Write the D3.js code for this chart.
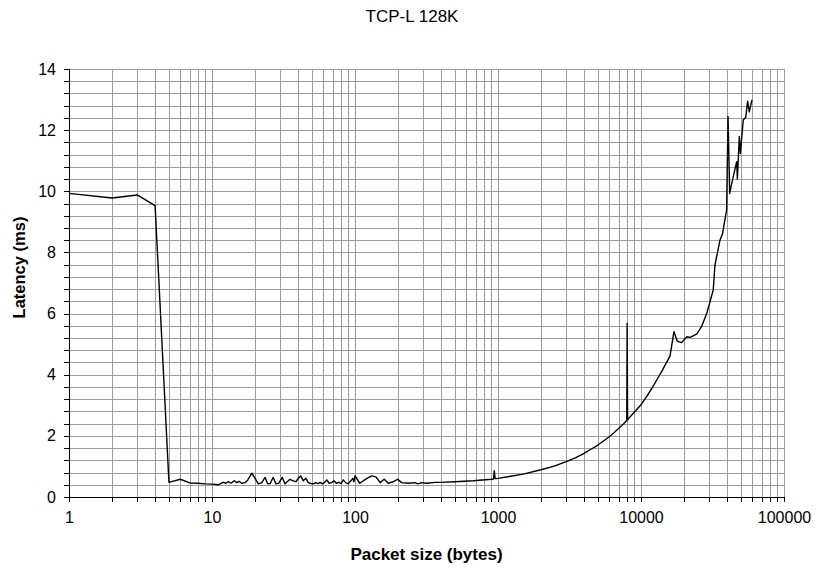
<!DOCTYPE html>
<html>
<head>
<meta charset="utf-8">
<script src="https://cdn.jsdelivr.net/npm/d3@7"></script>
<style>
  body { margin: 0; background: #fff; }
  svg { display: block; font-family: "Liberation Sans", Arial, sans-serif; }
</style>
</head>
<body>
<svg id="chart" width="817" height="569"></svg>
<script>
// packet size (bytes) and latency (ms)
var sizes = [1, 2, 3, 4, 5, 6, 7, 8, 9, 10, 11, 12, 12.5, 13, 13.6, 14.3, 14.9, 15.5, 16.1, 17, 17.8,
  19, 20, 21.1, 22.3, 23.5, 24.5, 25.5, 26.8, 28, 29.3, 31, 32.4, 35.1, 37, 38.7, 40.1, 41.7, 43.5,
  45.4, 47.1, 49, 51.1, 53, 55, 57, 59, 61, 63.4, 66, 68.5, 71.3, 74, 77, 80, 82.8, 86, 89.8, 92,
  94.8, 96.5, 98.4, 100, 108, 121, 131, 140, 150, 160, 171, 185, 199, 212, 236, 263, 275, 293, 317,
  363, 400, 500, 672, 900, 930, 942, 955, 1000, 1200, 1500, 2000, 2500, 3000, 3500, 4000, 4500,
  5000, 5500, 6000, 6500, 7000, 7500, 7950, 8000, 8060, 9000, 10000, 11000, 12000, 13000, 14000,
  15000, 15950, 17000, 17900, 19200, 20900, 22000, 24500, 26500, 28800,
  32000, 32900, 35700, 37200, 39700, 40600, 41700, 44000, 46700, 47200, 48700, 49500, 51900, 54000,
  55700, 57200, 59700];
var latency = [9.93, 9.78, 9.88, 9.53, 0.48, 0.58, 0.46, 0.45, 0.43, 0.42, 0.40, 0.48, 0.45, 0.50, 0.45, 0.53, 0.47, 0.51, 0.45, 0.47, 0.56,
  0.78, 0.61, 0.43, 0.47, 0.64, 0.43, 0.44, 0.64, 0.43, 0.45, 0.64, 0.43, 0.58, 0.53, 0.50, 0.61, 0.69, 0.53,
  0.61, 0.47, 0.44, 0.43, 0.47, 0.44, 0.48, 0.43, 0.47, 0.56, 0.45, 0.47, 0.53, 0.45, 0.48, 0.44, 0.56, 0.47, 0.43, 0.50,
  0.56, 0.61, 0.50, 0.69, 0.45, 0.61, 0.69, 0.66, 0.47, 0.58, 0.45, 0.50, 0.58, 0.47, 0.45, 0.47, 0.43, 0.47, 0.45,
  0.48, 0.48, 0.50, 0.53, 0.58, 0.59, 0.86, 0.60, 0.61, 0.67, 0.75, 0.89, 1.02, 1.16, 1.29, 1.43, 1.57,
  1.70, 1.84, 1.97, 2.11, 2.25, 2.38, 2.50, 5.68, 2.53, 2.78, 3.02, 3.30, 3.58, 3.86, 4.12,
  4.38, 4.61, 5.41, 5.10, 5.05, 5.24, 5.22, 5.33, 5.57, 6.00,
  6.77, 7.59, 8.41, 8.62, 9.39, 12.45, 9.93, 10.45, 10.97, 10.40, 11.79, 11.24, 12.33, 12.42,
  12.95, 12.60, 12.99];

var xLabels = [1, 10, 100, 1000, 10000, 100000];
var yLabels = [0, 2, 4, 6, 8, 10, 12, 14];
var yStep = 0.4;

var title = "TCP-L 128K",
    xTitle = "Packet size (bytes)",
    yTitle = "Latency (ms)";

var svg = d3.select("#chart"),
    plotL = 69, plotR = 784, plotT = 69, plotB = 497;

var x = d3.scaleLog()
  .domain([1, 100000])
  .range([plotL, plotR]);

var y = d3.scaleLinear()
  .domain([0, 14])
  .range([plotB, plotT]);

var yMinor = d3.range(0, 14 / yStep + 0.5).map(function(i){ return +(i * yStep).toFixed(2); });

// grid
var grid = svg.append("g")
  .attr("stroke", "#9c9c9c")
  .attr("stroke-width", 1)
  .attr("shape-rendering", "crispEdges");

grid.selectAll("line.v")
  .data(x.ticks())
  .enter().append("line")
  .attr("x1", function(d){ return Math.round(x(d)) + 0.5; })
  .attr("x2", function(d){ return Math.round(x(d)) + 0.5; })
  .attr("y1", plotT)
  .attr("y2", plotB);

grid.selectAll("line.h")
  .data(yMinor)
  .enter().append("line")
  .attr("x1", plotL)
  .attr("x2", plotR)
  .attr("y1", function(d){ return Math.round(y(d)) + 0.5; })
  .attr("y2", function(d){ return Math.round(y(d)) + 0.5; });

// axes
var xAxis = d3.axisBottom(x)
  .tickValues(x.ticks())
  .tickSize(5)
  .tickFormat(function(d){ return xLabels.indexOf(d) >= 0 ? d : ""; });

var yAxis = d3.axisLeft(y)
  .tickValues(yMinor)
  .tickSize(5)
  .tickFormat(function(d){ return yLabels.indexOf(d) >= 0 ? d : ""; });

svg.append("g")
  .attr("transform", "translate(0," + plotB + ")")
  .call(xAxis)
  .call(function(g){
    g.select(".domain").attr("d", "M" + plotL + ",0.5H" + plotR).attr("stroke", "#000").attr("shape-rendering", "crispEdges");
    g.selectAll(".tick line").attr("stroke", "#000").attr("shape-rendering", "crispEdges");
    g.selectAll(".tick text").attr("font-size", 16).attr("fill", "#000").attr("y", 15).attr("dy", "0.71em")
      .attr("font-family", "'Liberation Sans', Arial, sans-serif");
  });

svg.append("g")
  .attr("transform", "translate(" + plotL + ",0)")
  .call(yAxis)
  .call(function(g){
    g.select(".domain").attr("d", "M0.5," + plotT + "V" + plotB).attr("stroke", "#000").attr("shape-rendering", "crispEdges");
    g.selectAll(".tick line").attr("stroke", "#000").attr("shape-rendering", "crispEdges");
    g.selectAll(".tick text").attr("font-size", 16).attr("fill", "#000").attr("x", -13)
      .attr("font-family", "'Liberation Sans', Arial, sans-serif");
  });

// series
var line = d3.line()
  .x(function(d){ return x(d[0]); })
  .y(function(d){ return y(d[1]); });

svg.append("path")
  .datum(d3.zip(sizes, latency))
  .attr("fill", "none")
  .attr("stroke", "#000")
  .attr("stroke-width", 1.4)
  .attr("stroke-linejoin", "round")
  .attr("d", line);

// titles
svg.append("text")
  .attr("x", 412)
  .attr("y", 21.5)
  .attr("text-anchor", "middle")
  .attr("font-size", 17)
  .text(title);

svg.append("text")
  .attr("x", 426.5)
  .attr("y", 560)
  .attr("text-anchor", "middle")
  .attr("font-size", 17)
  .attr("font-weight", "bold")
  .text(xTitle);

svg.append("text")
  .attr("transform", "translate(24.5,267.5) rotate(-90)")
  .attr("text-anchor", "middle")
  .attr("font-size", 16.5)
  .attr("font-weight", "bold")
  .text(yTitle);
</script>
</body>
</html>
